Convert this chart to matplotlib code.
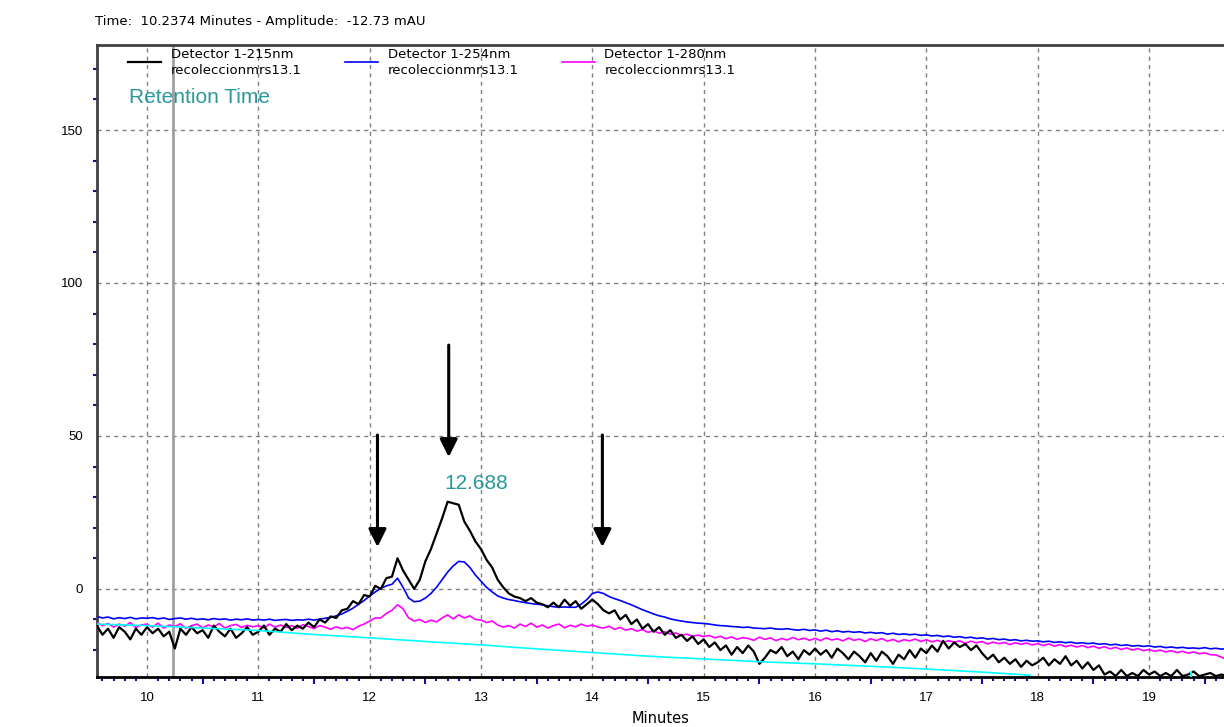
import numpy as np
import matplotlib
matplotlib.use("Agg")
import matplotlib.pyplot as plt
from matplotlib.ticker import FixedLocator, NullFormatter

plt.rcParams['font.family'] = ['Liberation Sans', 'DejaVu Sans']

# ---------------- data ----------------
# sampling times (minutes), 0.05 min spacing from 9.55 to 19.70
time = np.round(np.arange(9.55, 19.7001, 0.05), 2)

det215 = [
    -12, -15, -13, -16, -12.5, -14, -16.5, -13, -15,
    -12.5, -14.5, -13, -15.5, -14, -19.5, -13, -15, -12.5, -14.5,
    -13.5, -16, -12, -14, -15.5, -13, -16, -14.5, -12.5, -15,
    -14, -12, -15, -13, -14, -11.5, -13.5, -12, -13, -11,
    -12.5, -10, -11, -9, -9.5, -7, -6.5, -4, -5, -2,
    -2.5, 1, 0, 3.5, 4, 10, 6, 3, 0, 3,
    9, 13, 18, 23, 28.5, 28, 27.5, 22, 19, 15.5,
    13, 9.5, 7, 3, 0.5, -1.5, -2.5, -3, -4, -3,
    -4.5, -5, -6, -4.5, -6, -3.5, -5.5, -4, -6.5, -5,
    -3.5, -5, -7, -8, -7, -10, -8.5, -11.5, -10, -13,
    -11.5, -14, -12.5, -15, -13.5, -16, -15, -17, -15.5, -18,
    -16.5, -19, -17.5, -20, -18.5, -21.5, -19, -21, -18.5, -20.5,
    -24.5, -22.5, -20, -21, -19, -22, -20.5, -23, -20, -21.5,
    -19.5, -21.5, -20, -22.5, -19.5, -21, -23, -20.5, -22, -24,
    -21, -23.5, -20.5, -22, -24.5, -21.5, -23, -20, -22.5, -19.5,
    -21, -18.5, -20.5, -17, -19.5, -17.5, -19, -18, -20, -18.5,
    -21, -23, -21.5, -24, -22.5, -24.5, -23, -25.5, -23.5, -25,
    -24, -22.5, -25, -23, -24.5, -22, -25, -23.5, -26, -24,
    -26.5, -25, -28, -27, -28.5, -26.5, -28.5, -27.5, -28.5, -26.5,
    -28, -27, -28.5, -27.5, -28.5, -26.5, -28.5, -28, -27, -28.5,
    -28, -27.5, -28.5, -28, -28.5,
]

det254 = [
    -9, -9.5, -9.2, -9.8, -9.4, -9.7, -9.3, -9.8, -9.5,
    -9.6, -9.4, -9.8, -9.5, -10, -9.7, -9.5, -9.9, -9.6, -10,
    -9.8, -10.1, -9.7, -10, -9.8, -10.2, -9.9, -10.1, -9.8, -10.2,
    -10, -10.2, -9.9, -10.3, -10.1, -10, -10.3, -10.1, -10.2, -9.9,
    -10.2, -9.9, -9.6, -9.3, -8.8, -8.2, -7.3, -6.3, -5, -3.8,
    -2.3, -1, 0.2, 1, 1.5, 3.5, 0.5, -3, -4.2, -4,
    -3, -1.5, 0.5, 3, 5.5, 7.5, 9, 8.8, 7, 4.5,
    2.5, 0.5, -1, -2.3, -3, -3.5, -3.8, -4.2, -4.5, -4.8,
    -5, -5.2, -5.5, -5.8, -6, -5.9, -6, -6, -5, -3.5,
    -1.5, -1, -1.5, -2.5, -3.2, -3.8, -4.5, -5.2, -6, -6.8,
    -7.5, -8.2, -8.8, -9.2, -9.8, -10.2, -10.5, -10.8, -11, -11.2,
    -11.3, -11.5, -11.8, -12, -12.1, -12.3, -12.4, -12.6, -12.5, -12.8,
    -12.9, -13, -12.8, -13.1, -13.2, -13, -13.3, -13.5, -13.2, -13.6,
    -13.4, -13.8, -13.5, -14, -13.7, -14.1, -13.9, -14.2, -14, -14.4,
    -14.2, -14.5, -14.3, -14.8, -14.5, -14.9, -14.7, -15, -14.8, -15.2,
    -15, -15.4, -15.2, -15.6, -15.4, -15.8, -15.6, -16, -15.8, -16.2,
    -16, -16.4, -16.2, -16.6, -16.4, -16.8, -16.6, -17, -16.8, -17.1,
    -17, -17.3, -17.1, -17.5, -17.3, -17.6, -17.4, -17.8, -17.6, -17.9,
    -17.7, -18.1, -17.9, -18.3, -18.1, -18.5, -18.3, -18.7, -18.5, -18.8,
    -18.6, -19, -18.8, -19.2, -19, -19.3, -19.1, -19.4, -19.3, -19.5,
    -19.2, -19.6, -19.4, -19.7, -19.5,
]

det280 = [
    -11, -12, -11.3, -12.5, -11.5, -12.2, -11, -12.6, -11.8,
    -11.5, -12.5, -11.2, -12.8, -11.8, -12.3, -11.4, -12.9, -12, -11.5,
    -12.7, -11.8, -12.4, -11.3, -12.8, -12, -11.6, -12.6, -11.9, -12.4,
    -12, -12.8, -11.5, -12.5, -11.8, -12.6, -12, -12.9, -11.7, -12.3,
    -13, -12, -12.5, -13.2, -12.4, -13, -12.6, -13.3, -12.2, -11.5,
    -10.5, -9.5, -9.5, -8, -7, -5.2, -6.5, -9.5, -10.5, -10,
    -11, -10.2, -10.8, -9.5, -8.5, -9.8, -8.5, -9.5, -8.8, -10,
    -10.2, -11, -10.5, -11.8, -12.5, -12, -12.8, -11.5, -12.3, -11.2,
    -12.5, -11.8, -12.8, -12, -11.5, -12.7, -11.9, -12.4, -11.5, -12.2,
    -11.8, -12.5, -12.8, -12.2, -13.2, -12.6, -13.5, -13, -13.8, -13.3,
    -14.2, -13.7, -14.5, -14, -14.8, -14.4, -15.2, -14.8, -15.5, -15.1,
    -15.6, -15.2, -16, -15.5, -16.3, -15.7, -16.5, -15.9, -16.2, -16.8,
    -15.8, -16.5, -16, -16.9, -16.2, -16.7, -15.9, -16.6, -16.1, -16.8,
    -16.2, -16.9, -16, -16.7, -16.3, -17, -16.1, -16.8, -16.4, -17.2,
    -16.3, -16.9, -16.2, -17.1, -16.5, -17.3, -16.6, -17, -16.4, -17.2,
    -16.6, -17.3, -16.8, -17.5, -16.9, -17.4, -17, -17.8, -17.1, -17.6,
    -17.2, -18, -17.4, -17.9, -17.5, -18.2, -17.6, -18.1, -17.7, -18.3,
    -17.9, -18.5, -18, -18.7, -18.2, -18.9, -18.4, -19, -18.5, -19.2,
    -18.7, -19.4, -18.9, -19.6, -19.1, -19.8, -19.3, -20, -19.5, -20.2,
    -19.8, -20.4, -20, -20.6, -20.2, -20.8, -20.4, -21, -20.6, -21.2,
    -20.9, -21.5, -21.6, -22.3, -23.2,
]

# integration baseline (cyan)
base_time = [9.55, 10.0, 10.5, 11.0, 11.5, 12.0, 12.5, 13.0, 13.5, 14.0,
             14.5, 15.0, 15.5, 16.0, 16.5, 17.0, 17.5, 17.93]
base_val = [-11.5, -12.0, -12.8, -13.6, -14.9, -16.0, -17.2, -18.3, -19.6, -20.8,
            -22.0, -22.9, -23.8, -24.5, -25.3, -26.2, -27.2, -28.2]
base2_time = [19.38, 19.38]
base2_val = [-27.3, -29.0]

cursor_time = 10.2374
peak_label_time = 12.688

arrow_x = [12.07, 12.71, 14.09]
arrow_top = [50.3, 79.7, 50.3]
arrow_tip = [13.7, 43.1, 13.7]

x_major = [10, 11, 12, 13, 14, 15, 16, 17, 18, 19]
y_major = [0, 50, 100, 150]

legend_labels = ["Detector 1-215nm\nrecoleccionmrs13.1",
                 "Detector 1-254nm\nrecoleccionmrs13.1",
                 "Detector 1-280nm\nrecoleccionmrs13.1"]

# ---------------- figure ----------------
W, H = 1224, 727
fig = plt.figure(figsize=(W / 100, H / 100), dpi=100)
ax = fig.add_axes([97 / W, 1 - 677 / H, (1224 - 97) / W, (677 - 45) / H])
ax.set_xlim(9.551, 19.673)
ax.set_ylim(-28.8, 177.8)

grid_kw = dict(color='#808080', lw=1.0, dashes=(3, 3), zorder=1)
for gx in x_major:
    ax.axvline(gx, **grid_kw)
for gy in y_major:
    ax.axhline(gy, **grid_kw)

ax.axvline(cursor_time, color='#a0a0a0', lw=2, zorder=2)

l_blue, = ax.plot(time, det254, color='#0000ff', lw=1.2, zorder=3)
l_mag, = ax.plot(time, det280, color='#ff00ff', lw=1.2, zorder=3)
l_blk, = ax.plot(time, det215, color='black', lw=1.6, zorder=4)
ax.plot(base_time, base_val, color='#00ffff', lw=1.2, zorder=5)
ax.plot(base2_time, base2_val, color='#00ffff', lw=1.4, zorder=5)

for xa, yt, yb in zip(arrow_x, arrow_top, arrow_tip):
    ax.annotate("", xy=(xa, yb), xytext=(xa, yt),
                arrowprops=dict(arrowstyle='-|>,head_length=0.6,head_width=0.3',
                                mutation_scale=18, lw=2.2, color='black',
                                shrinkA=0, shrinkB=0), zorder=6)

teal = '#2a9898'
ax.text(peak_label_time - 0.013, 31.2, "12.688", color=teal, fontsize=15,
        ha='left', va='bottom', zorder=6)
ax.text(9.84, 160.8, "Retention Time", color=teal, fontsize=15,
        ha='left', va='center', zorder=6)

# spines
ax.spines['right'].set_visible(False)
ax.spines['left'].set_color('#404040')
ax.spines['left'].set_linewidth(2)
ax.spines['top'].set_color('#404040')
ax.spines['top'].set_linewidth(2)
ax.spines['bottom'].set_color('black')
ax.spines['bottom'].set_linewidth(2)

# ticks
ax.set_xticks(x_major)
ax.set_xticklabels([str(v) for v in x_major])
minor_x = [round(9.6 + 0.1 * i, 1) for i in range(101)]
minor_x = [v for v in minor_x if abs(v - round(v)) > 1e-6 and abs(abs(v - round(v)) - 0.5) > 1e-6
           and v < 19.68]
ax.xaxis.set_minor_locator(FixedLocator(minor_x))
ax.tick_params(axis='x', which='major', length=0, pad=11, labelsize=9.5)
ax.tick_params(axis='x', which='minor', length=3, width=1.5, color='#1010a0', direction='out')
sec = ax.secondary_xaxis('bottom')
sec.set_xticks([9.5 + i for i in range(11)])
sec.xaxis.set_major_formatter(NullFormatter())
sec.tick_params(length=5, width=1.5, color='#1010a0', direction='out')
sec.spines['bottom'].set_visible(False)

ax.set_yticks(y_major)
ax.set_yticklabels([str(v) for v in y_major])
minor_y = [v for v in range(-20, 180, 10) if v % 50 != 0]
ax.yaxis.set_minor_locator(FixedLocator(minor_y))
ax.tick_params(axis='y', which='major', length=0, pad=10, labelsize=9.5)
ax.tick_params(axis='y', which='minor', length=3, width=1.5, color='#1010a0', direction='out')

ax.set_xlabel("Minutes", fontsize=10.5, labelpad=5, family='DejaVu Sans')

leg = ax.legend([l_blk, l_blue, l_mag], legend_labels, ncol=3, loc='upper left',
                bbox_to_anchor=(31 / 1127, 0.996), frameon=False,
                prop={'family': 'DejaVu Sans', 'size': 9.5},
                handlelength=2.5, handletextpad=0.75, columnspacing=3.25,
                borderpad=0, borderaxespad=0, labelspacing=0)
for t in leg.get_texts():
    t.set_linespacing(1.3)

fig.text(95 / W, 1 - 21 / H, "Time:  10.2374 Minutes - Amplitude:  -12.73 mAU",
         fontsize=9.5, ha='left', va='center', family='DejaVu Sans')

fig.savefig("out.png", dpi=100)
